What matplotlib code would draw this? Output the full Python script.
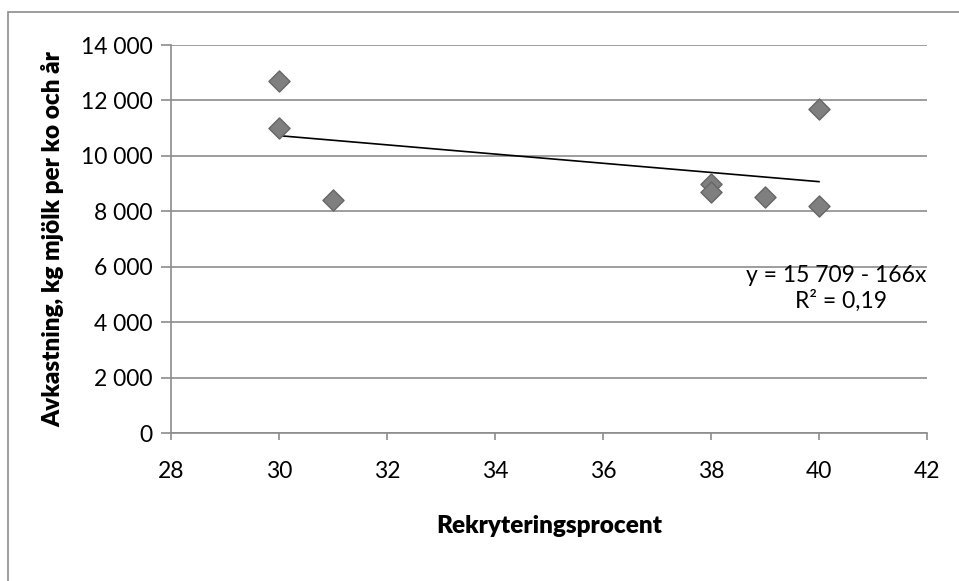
import matplotlib
matplotlib.use("Agg")
import matplotlib.pyplot as plt
from matplotlib.patches import Rectangle
from matplotlib.ticker import FuncFormatter

x_vals = [30, 30, 31, 38, 38, 39, 40, 40]
y_vals = [12700, 11000, 8400, 9000, 8700, 8500, 11700, 8200]
intercept = 15709
slope = -166
x_ticks = [28, 30, 32, 34, 36, 38, 40, 42]
y_ticks = [0, 2000, 4000, 6000, 8000, 10000, 12000, 14000]

plt.rcParams['font.family'] = ['Lato', 'DejaVu Sans']

W, H = 959, 581
fig = plt.figure(figsize=(W/100, H/100), dpi=100)
fig.patches.append(Rectangle((8/W, -0.1), 1.2, 1.1 - 12/H, transform=fig.transFigure,
                             fill=False, edgecolor='#8c8c8c', linewidth=1.2))
ax = fig.add_axes([171/W, 1 - 433/H, (927-171)/W, (433-45)/H])

xs = [min(x_vals), max(x_vals)]
ax.plot(xs, [intercept + slope*v for v in xs], color='black', lw=1.2, zorder=3)
ax.scatter(x_vals, y_vals, marker='D', s=115, color='#7f7f7f', edgecolor='#666666',
           linewidth=1, zorder=4)

ax.set_xlim(28, 42)
ax.set_ylim(0, 14000)
ax.set_xticks(x_ticks)
ax.set_yticks(y_ticks)
ax.yaxis.set_major_formatter(FuncFormatter(lambda v, p: f"{int(v):,}".replace(",", " ")))
ax.grid(axis='y', color='#8c8c8c', lw=1.2)
ax.set_axisbelow(True)
for s in ['top', 'right']:
    ax.spines[s].set_visible(False)
for s in ['left', 'bottom']:
    ax.spines[s].set_color('#8c8c8c')
    ax.spines[s].set_linewidth(1.2)
ax.tick_params(axis='y', length=7, color='#8c8c8c', width=1.2, labelsize=16.5, pad=6)
ax.tick_params(axis='x', length=5, color='#8c8c8c', width=1.2, labelsize=16.5, pad=15)

ax.set_xlabel('Rekryteringsprocent', fontsize=17.5, fontweight='heavy', labelpad=24)
ax.set_ylabel('Avkastning, kg mjölk per ko och år', fontsize=17.5, fontweight='heavy', labelpad=12)

ax.text(926/W, 1 - 275/H, 'y = 15 709 - 166x', transform=fig.transFigure,
        ha='right', va='center', fontsize=16.5)
ax.text(887/W, 1 - 301/H, 'R² = 0,19', transform=fig.transFigure,
        ha='right', va='center', fontsize=16.5)

fig.savefig('out.png', dpi=100)
